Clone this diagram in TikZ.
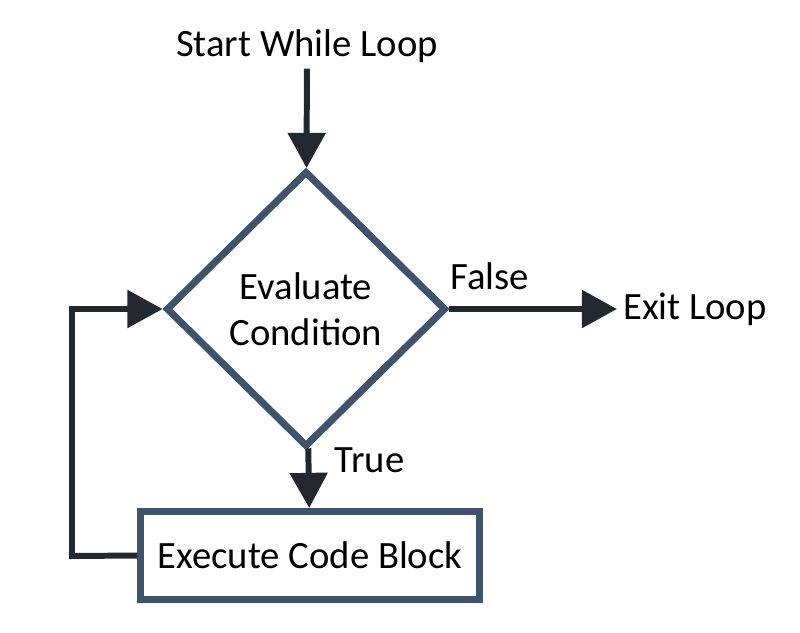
\documentclass[tikz,border=0pt]{standalone}
\usepackage{fontspec}
\setmainfont{Carlito}
\usetikzlibrary{shapes.geometric,arrows.meta}
\definecolor{edgecol}{HTML}{23282E}
\definecolor{boxcol}{HTML}{3F546C}
\tikzset{
  txt/.style={font=\fontsize{22}{26}\selectfont,text=black},
  flow/.style={draw,color=edgecol,line width=3.4pt,-{Triangle[length=20pt,width=21pt]}},
}
\begin{document}
\begin{tikzpicture}[x=0.02cm,y=-0.02cm]
\useasboundingbox (0,0) rectangle (800,632);
\node[txt] (start) at (307,46) {Start While Loop};
\node[txt,draw=boxcol,line width=4pt,diamond,minimum width=5.6cm,minimum height=5.52cm,inner sep=0pt,align=center] (cond) at (306,309) {Evaluate\\Condition};
\node[txt,anchor=west] (exit) at (617,309) {Exit Loop};
\node[txt,draw=boxcol,line width=4pt,minimum width=6.78cm,minimum height=1.76cm] (body) at (310,555.5) {Execute Code Block};
\coordinate (back) at (72,556);
\path[flow] (start) -- (cond);
\path[flow] (cond) -- node[txt,pos=0.2,anchor=west,xshift=10pt] {True} (body);
\path[flow] (cond) -- node[txt,pos=0.24,anchor=south,inner sep=1pt,yshift=8pt] {False} (exit);
\path[flow] (body.west) -- (back) |- (cond.west);
\end{tikzpicture}
\end{document}
